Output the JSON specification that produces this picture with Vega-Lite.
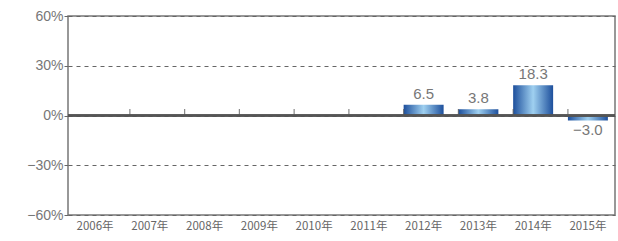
{
  "$schema": "https://vega.github.io/schema/vega-lite/v6.json",
  "width": 547,
  "height": 199,
  "autosize": {"type": "none"},
  "padding": {"left": 68, "top": 16, "right": 3, "bottom": 26},
  "background": "white",
  "config": {
    "view": {"stroke": "#777", "strokeWidth": 1.5},
    "font": "Liberation Sans"
  },
  "data": {
    "values": [
      {"year": "2006年", "value": null, "label": ""},
      {"year": "2007年", "value": null, "label": ""},
      {"year": "2008年", "value": null, "label": ""},
      {"year": "2009年", "value": null, "label": ""},
      {"year": "2010年", "value": null, "label": ""},
      {"year": "2011年", "value": null, "label": ""},
      {"year": "2012年", "value": 6.5, "label": "6.5"},
      {"year": "2013年", "value": 3.8, "label": "3.8"},
      {"year": "2014年", "value": 18.3, "label": "18.3"},
      {"year": "2015年", "value": -3.0, "label": "−3.0"}
    ]
  },
  "encoding": {
    "x": {
      "field": "year", "type": "nominal", "sort": null,
      "scale": {"domain": ["2006年", "2007年", "2008年", "2009年", "2010年", "2011年", "2012年", "2013年", "2014年", "2015年"],
                "paddingInner": 0.27, "paddingOuter": 0.13},
      "axis": {"title": null, "labelAngle": 0, "ticks": false, "domain": false,
               "labelFont": "Noto Sans CJK JP", "labelFontSize": 11.5, "labelColor": "#666", "labelPadding": 5}
    }
  },
  "layer": [
    {
      "mark": {"type": "bar", "color": {"gradient": "linear", "x1": 0, "x2": 1, "y1": 0, "y2": 0,
        "stops": [{"offset": 0, "color": "#1d4f9c"}, {"offset": 0.5, "color": "#9fd0f0"}, {"offset": 1, "color": "#1d4f9c"}]}},
      "encoding": {
        "y": {"field": "value", "type": "quantitative",
          "scale": {"domain": [-60, 60], "nice": false},
          "axis": {"title": null, "values": [-60, -30, 0, 30, 60], "labelExpr": "replace(datum.value + '%', '-', '−')",
                   "grid": true, "gridDash": [4, 4], "gridColor": "#666", "gridWidth": 1,
                   "domain": false, "ticks": true, "tickSize": 4, "tickColor": "#666",
                   "labelFontSize": 14, "labelColor": "#777", "labelPadding": 1}}
      }
    },
    {
      "mark": {"type": "rule", "color": "#555", "strokeWidth": 1.5},
      "encoding": {"y": {"datum": 0, "type": "quantitative"}, "x": {"value": 0}, "x2": {"value": 547}}
    },
    {
      "transform": [{"filter": "datum.year != '2006年'"}],
      "mark": {"type": "tick", "orient": "vertical", "size": 7, "thickness": 1.2, "color": "#555", "yOffset": -3},
      "encoding": {"x": {"field": "year", "type": "nominal", "sort": null, "bandPosition": 0},
                   "y": {"datum": 0, "type": "quantitative"}}
    },
    {
      "transform": [{"filter": "datum.value > 0"}],
      "mark": {"type": "text", "baseline": "bottom", "dy": -3, "fontSize": 15, "color": "#777"},
      "encoding": {"y": {"field": "value", "type": "quantitative"}, "text": {"field": "label"}}
    },
    {
      "transform": [{"filter": "datum.value < 0"}],
      "mark": {"type": "text", "baseline": "top", "dy": 3, "fontSize": 15, "color": "#777"},
      "encoding": {"y": {"field": "value", "type": "quantitative"}, "text": {"field": "label"}}
    }
  ]
}
